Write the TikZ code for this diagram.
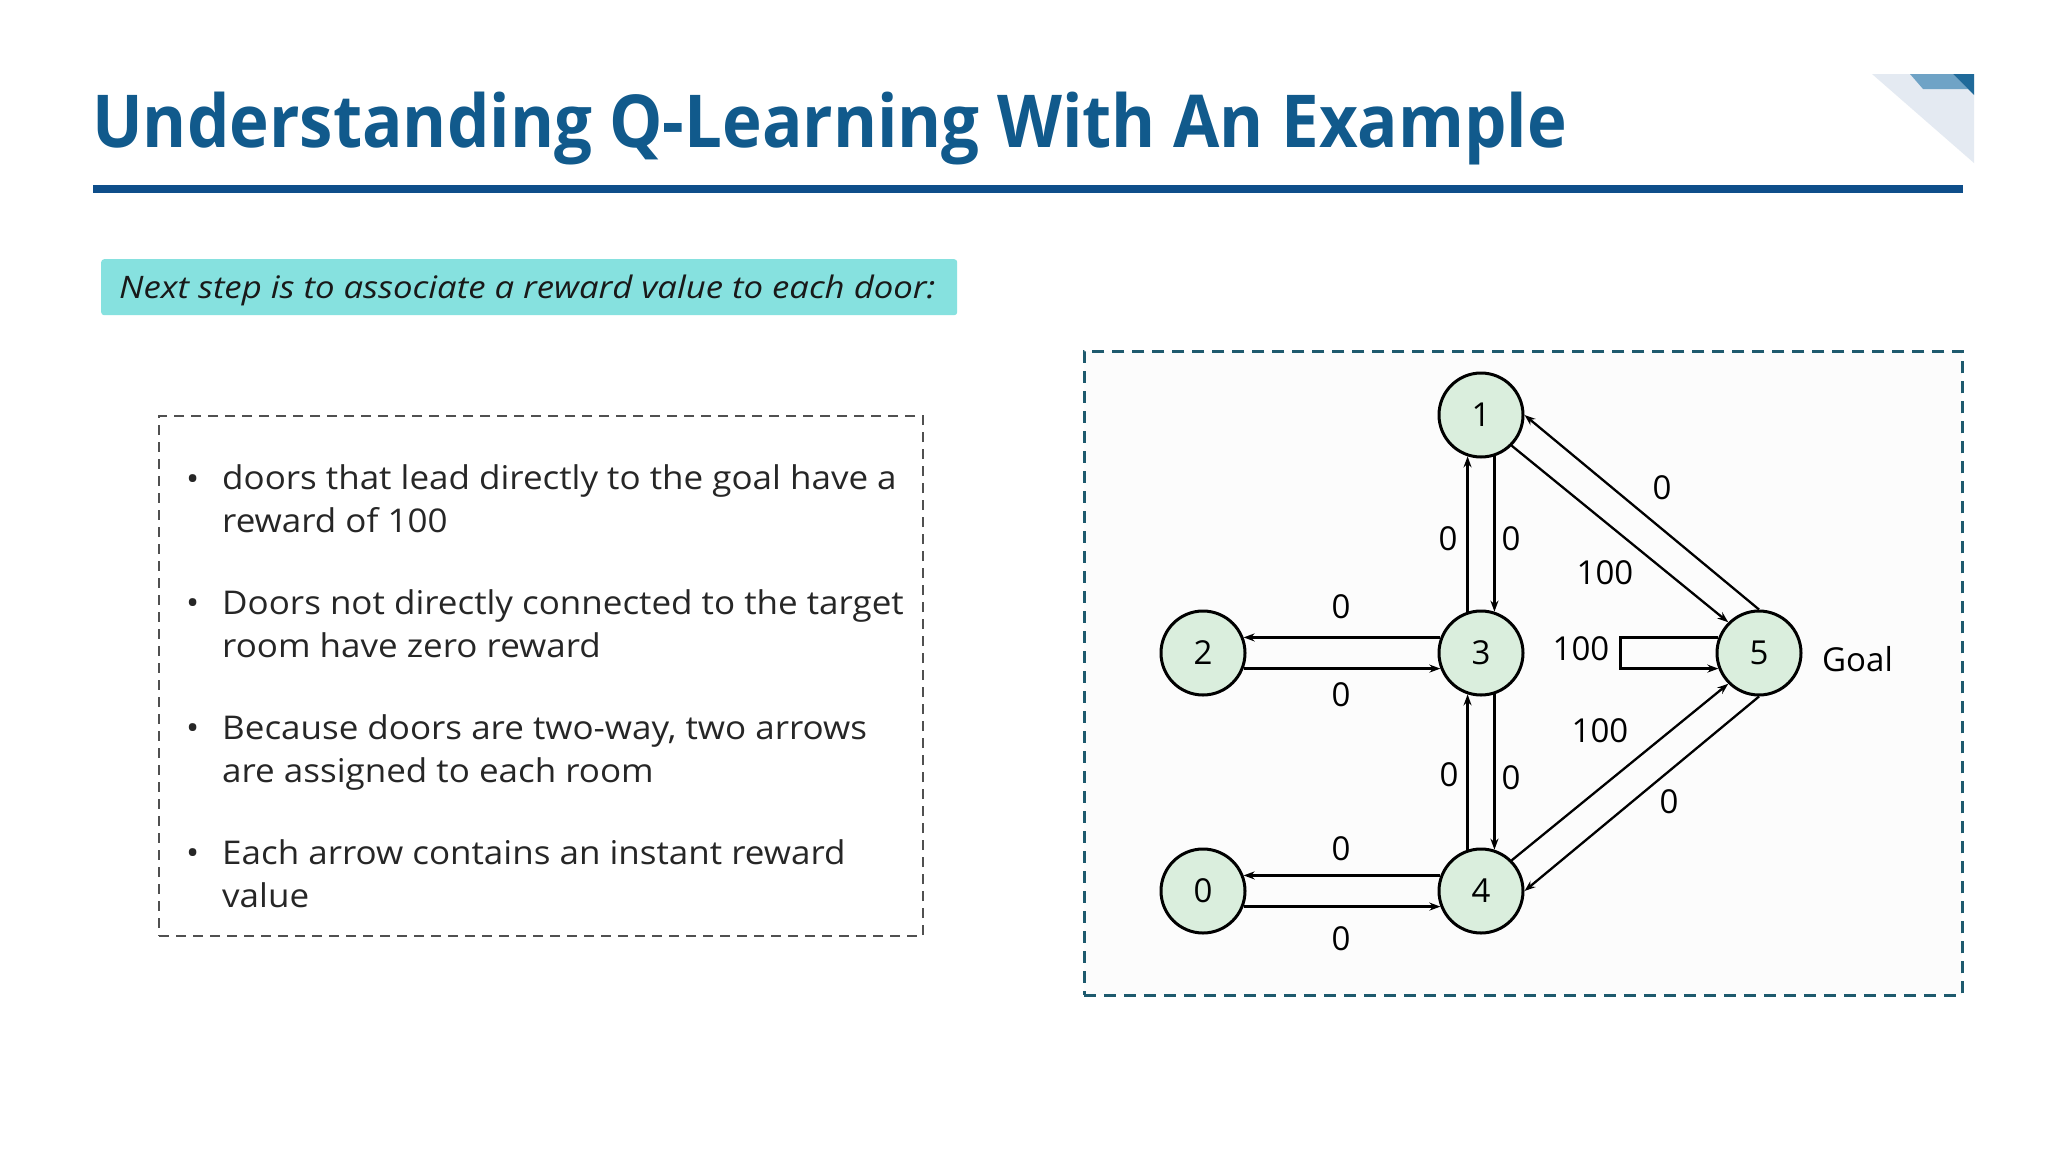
\documentclass[tikz,border=0pt]{standalone}
\usepackage{fontspec}
\setmainfont{Open Sans}
\newfontfamily\titlefont[FakeStretch=0.92]{Open Sans}
\newfontfamily\bodyfont[FakeStretch=1.07]{Open Sans}
\newfontfamily\subfont[FakeStretch=1.12]{Open Sans}
\usetikzlibrary{arrows.meta}
\definecolor{titleblue}{HTML}{115A8C}
\definecolor{ruleblue}{HTML}{0E4E8A}
\definecolor{cyanbox}{HTML}{86E1DF}
\definecolor{nodefill}{HTML}{DAEEDD}
\definecolor{boxteal}{HTML}{1E5A6E}
\definecolor{leftdash}{HTML}{505050}
\definecolor{decolight}{HTML}{E4EAF2}
\definecolor{decomid}{HTML}{6FA3C6}
\definecolor{decodark}{HTML}{1F6A9A}
\begin{document}
\begin{tikzpicture}[x=1pt,y=-1pt,
  state/.style={circle,draw=black,line width=3pt,fill=nodefill,minimum size=84pt,inner sep=0pt,font=\fontsize{33}{33}\selectfont},
  door/.style={line width=2.3pt,-{Stealth[length=11pt,width=8pt]}},
  lbl/.style={font=\fontsize{33}{33}\selectfont,inner sep=0pt},
  bul/.style={anchor=base west,inner sep=0pt,align=left,font=\bodyfont\fontsize{32.7}{43}\selectfont,text=black!85},
]
\useasboundingbox (0,0) rectangle (2048,1152);
\fill[white] (0,0) rectangle (2048,1152);

% title and rule
\node[anchor=base west,inner sep=0pt,text=titleblue,font=\titlefont\fontsize{73}{73}\selectfont\bfseries] (title) at (92,147) {Understanding Q-Learning With An Example};
\fill[ruleblue] (93,185) rectangle (1963,193);

% corner decoration
\fill[decolight] (1872,74) -- (1974,74) -- (1974,163) -- cycle;
\fill[decomid] (1910,74) -- (1953,74) -- (1968,89) -- (1923,89) -- cycle;
\fill[decodark] (1953,74) -- (1974,74) -- (1974,95) -- cycle;

% subtitle box
\node[anchor=north west,inner sep=0pt,minimum width=856pt,minimum height=56pt,fill=cyanbox,rounded corners=3pt] (sub) at (101,259) {};
\node[anchor=base west,inner sep=0pt,font=\subfont\fontsize{31}{31}\selectfont\itshape,text=black!90] (subtext) at (119,298) {Next step is to associate a reward value to each door:};

% left dashed box
\node[anchor=north west,inner sep=0pt,minimum width=764pt,minimum height=520pt,draw=leftdash,line width=2pt,dash pattern=on 10pt off 7pt] (lbox) at (158,415) {};

\node[bul] (b1) at (186,490) {\textbullet};
\node[bul] (t1) at (222,532) {doors that lead directly to the goal have a\\reward of 100};
\node[bul] (b2) at (186,614) {\textbullet};
\node[bul] (t2) at (222,657) {Doors not directly connected to the target\\room have zero reward};
\node[bul] (b3) at (186,739) {\textbullet};
\node[bul] (t3) at (222,782) {Because doors are two-way, two arrows\\are assigned to each room};
\node[bul] (b4) at (186,864) {\textbullet};
\node[bul] (t4) at (222,907) {Each arrow contains an instant reward\\value};

% right dashed box
\node[anchor=north west,inner sep=0pt,minimum width=878pt,minimum height=644pt,draw=boxteal,line width=2.5pt,dash pattern=on 12pt off 8pt,fill=black!1] (rbox) at (1083,350) {};

% states
\node[state] (n1) at (1481,415) {1};
\node[state] (n2) at (1203,653) {2};
\node[state] (n3) at (1481,653) {3};
\node[state] (n5) at (1759,653) {5};
\node[state] (n0) at (1203,891) {0};
\node[state] (n4) at (1481,891) {4};

% doors
\draw[door] (n3.159) -- (n2.21);
\draw[door] (n2.-21) -- (n3.201);
\draw[door] (n3.108) -- (n1.252);
\draw[door] (n1.288) -- (n3.72);
\draw[door] (n4.108) -- (n3.252);
\draw[door] (n3.288) -- (n4.72);
\draw[door] (n4.159) -- (n0.21);
\draw[door] (n0.-21) -- (n4.201);
\draw[door] (n5.90) -- (n1.0);
\draw[door] (n1.-45) -- (n5.135);
\draw[door] (n4.45) -- (n5.225);
\draw[door] (n5.270) -- (n4.0);
\draw[door] (n5.159) -- ++(-98,0) |- (n5.201);

% labels
\node[lbl] (l23a) at (1341,607) {0};
\node[lbl] (l23b) at (1341,695) {0};
\node[lbl] (l13a) at (1448,539) {0};
\node[lbl] (l13b) at (1511,539) {0};
\node[lbl] (l34a) at (1449,775) {0};
\node[lbl] (l34b) at (1511,778) {0};
\node[lbl] (l04a) at (1341,849) {0};
\node[lbl] (l04b) at (1341,939) {0};
\node[lbl] (l15a) at (1662,488) {0};
\node[lbl] (l15b) at (1605,573) {100};
\node[lbl] (l45a) at (1600,731) {100};
\node[lbl] (l45b) at (1669,802) {0};
\node[lbl] (l55) at (1581,649) {100};
\node[lbl,anchor=west] (goal) at (1822,659) {Goal};
\end{tikzpicture}
\end{document}
